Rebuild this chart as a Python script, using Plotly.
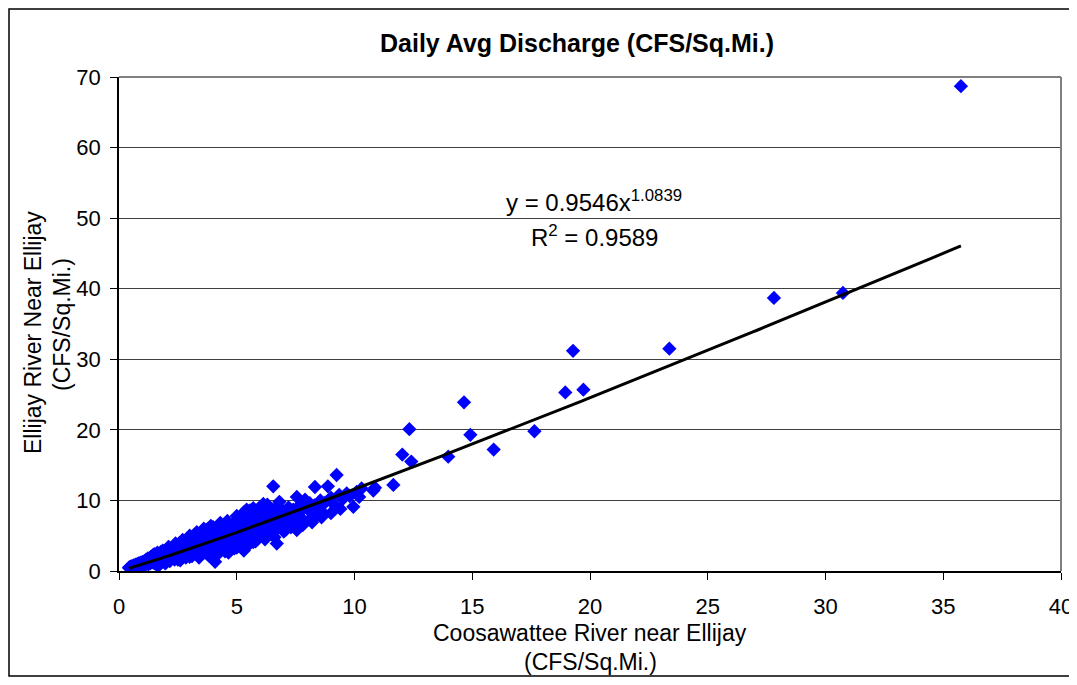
import plotly.graph_objects as go

# Coosawattee River near Ellijay (CFS/Sq.Mi.)
coosa = [
    0.42, 0.45, 0.48, 0.50, 0.52, 0.55, 0.58, 0.60, 0.62, 0.65,
    0.68, 0.70, 0.72, 0.75, 0.78, 0.80, 0.83, 0.85, 0.88, 0.90,
    0.93, 0.95, 0.98, 1.00, 1.02, 1.05, 1.08, 1.10, 1.13, 1.15,
    1.18, 1.20, 1.23, 1.25, 1.28, 1.30, 1.33, 1.35, 1.38, 1.40,
    1.43, 1.45, 1.48, 1.50, 1.53, 1.55, 1.58, 1.60, 1.63, 1.66,
    1.70, 1.72, 1.75, 1.78, 1.80, 1.83, 1.86, 1.90, 1.93, 1.96,
    2.00, 2.03, 2.06, 2.10, 2.13, 2.16, 2.20, 2.23, 2.26, 2.30,
    2.33, 2.36, 2.40, 2.44, 2.48, 2.52, 2.56, 2.60, 2.64, 2.68,
    2.72, 2.76, 2.80, 2.84, 2.88, 2.92, 2.96, 3.00, 3.05, 3.10,
    3.15, 3.20, 3.25, 3.30, 3.35, 3.40, 3.45, 3.50, 3.55, 3.60,
    3.65, 3.70, 3.75, 3.80, 3.85, 3.90, 3.95, 4.00, 4.05, 4.10,
    4.15, 4.20, 4.25, 4.08, 4.00, 4.35, 4.40, 4.45, 4.50, 4.55,
    4.60, 4.65, 4.70, 4.75, 4.80, 4.85, 4.90, 4.95, 5.00, 5.05,
    5.10, 5.15, 5.20, 5.25, 5.30, 5.35, 5.42, 5.42, 5.45, 5.50,
    5.56, 5.60, 5.65, 5.70, 5.75, 5.80, 5.85, 5.90, 5.95, 6.00,
    6.05, 6.13, 6.10, 6.20, 6.25, 6.30, 6.35, 6.40, 6.45, 6.55,
    6.50, 6.60, 6.70, 6.65, 6.75, 6.81, 6.85, 6.90, 7.00, 7.05,
    7.10, 7.20, 7.30, 7.40, 7.55, 7.55, 7.50, 7.60, 7.70, 7.80,
    7.90, 8.00, 8.10, 8.20, 8.32, 8.39, 8.45, 8.55, 8.68, 8.87,
    8.75, 9.00, 9.24, 9.10, 9.35, 9.50, 9.67, 9.80, 9.95, 10.09,
    10.20, 10.30, 10.80, 10.87, 11.65, 12.03, 12.33, 12.41, 13.98, 14.65,
    14.92, 15.91, 17.64, 18.95, 19.72, 19.28, 23.37, 27.81, 30.74, 35.75,
    1.10, 1.40, 1.70, 2.00, 2.30, 2.60, 2.90, 3.20, 3.50, 3.80,
    4.10, 4.40, 4.70, 5.00, 5.30, 5.60, 5.90, 6.20, 6.50, 6.80,
    7.10, 7.40, 7.70, 8.00, 8.30, 8.60, 3.00, 3.40, 3.60, 4.20,
    4.60, 5.20, 2.50, 2.20, 1.90,
    2.10, 2.40, 2.70, 3.00, 3.30, 3.60, 3.90, 4.30, 4.60, 5.00,
    5.30, 5.70, 6.00, 6.30,
    2.00, 2.50, 3.00, 3.30, 3.70, 4.20, 4.50, 4.90, 5.30, 5.80,
    6.20, 6.60, 7.00, 7.30, 7.80, 8.20, 8.60, 9.00, 9.40,
    1.50, 1.80, 2.10, 2.40, 2.80, 3.10, 3.40, 3.70, 4.00, 4.30,
    4.60, 4.90, 5.20, 5.50, 5.80, 6.10, 6.40, 6.70, 7.00, 7.30,
]

# Ellijay River near Ellijay (CFS/Sq.Mi.)
ellijay = [
    0.45, 0.55, 0.40, 0.60, 0.50, 0.70, 0.45, 0.65, 0.80, 0.55,
    0.75, 0.90, 0.60, 0.80, 1.00, 0.70, 0.90, 1.10, 0.75, 1.00,
    1.20, 0.80, 1.05, 1.30, 0.85, 1.15, 1.40, 0.90, 1.25, 1.60,
    1.00, 1.35, 1.80, 0.95, 1.45, 1.70, 1.10, 2.00, 1.30, 1.55,
    2.20, 1.20, 1.70, 2.40, 1.05, 1.85, 2.10, 1.40, 2.60, 0.70,
    1.90, 2.30, 1.50, 2.70, 1.20, 2.00, 2.90, 1.60, 2.40, 1.10,
    2.20, 3.00, 1.70, 2.60, 3.30, 1.40, 2.40, 3.10, 1.90, 2.80,
    3.50, 1.60, 2.50, 3.70, 2.00, 2.90, 3.90, 1.50, 2.70, 3.40,
    2.20, 4.20, 3.00, 1.90, 3.60, 4.50, 2.50, 3.30, 4.80, 2.10,
    3.80, 5.10, 2.80, 3.50, 4.40, 1.90, 3.10, 5.40, 4.00, 2.60,
    4.70, 3.60, 5.90, 2.20, 4.20, 5.20, 3.30, 6.20, 4.50, 2.90,
    5.00, 3.80, 6.00, 1.30, 1.90, 4.70, 5.60, 3.20, 6.60, 4.30,
    5.30, 2.60, 4.90, 6.40, 3.70, 5.80, 4.50, 7.00, 3.30, 5.40,
    6.20, 4.10, 7.40, 5.00, 2.90, 6.00, 8.70, 3.45, 4.60, 6.80,
    8.60, 5.30, 7.60, 4.10, 6.50, 7.90, 5.70, 4.60, 7.00, 8.30,
    5.90, 9.50, 4.90, 7.30, 6.30, 8.00, 5.20, 7.60, 6.70, 12.00,
    8.70, 5.60, 3.90, 7.20, 9.20, 9.80, 6.40, 7.90, 8.40, 6.90,
    5.90, 9.00, 7.40, 8.70, 10.50, 5.80, 6.60, 8.00, 9.40, 7.30,
    10.10, 8.80, 9.60, 7.60, 11.90, 7.90, 9.20, 10.00, 8.20, 12.00,
    9.70, 10.40, 13.60, 9.50, 10.80, 10.20, 11.00, 10.60, 9.10, 11.20,
    10.50, 11.70, 11.40, 11.80, 12.20, 16.50, 20.10, 15.50, 16.20, 23.90,
    19.30, 17.20, 19.80, 25.30, 25.70, 31.20, 31.50, 38.70, 39.40, 68.70,
    1.10, 1.30, 1.70, 1.90, 2.30, 2.60, 3.00, 3.40, 3.70, 4.00,
    4.40, 4.70, 5.10, 5.50, 5.80, 6.10, 6.40, 6.80, 7.10, 7.50,
    7.80, 8.10, 8.50, 9.00, 9.30, 9.70, 4.00, 4.60, 3.00, 5.30,
    3.90, 4.50, 3.30, 1.80, 2.50,
    3.40, 3.90, 4.40, 5.00, 5.50, 6.00, 6.40, 6.80, 7.10, 7.80,
    8.30, 8.90, 9.10, 9.40,
    1.20, 1.60, 2.00, 2.30, 2.60, 2.40, 2.80, 3.20, 3.90, 4.20,
    4.50, 4.80, 5.60, 6.20, 6.50, 6.90, 7.60, 8.20, 8.80,
    1.50, 2.20, 2.00, 3.00, 2.50, 3.80, 3.20, 4.50, 3.60, 5.60,
    4.40, 5.90, 5.10, 6.30, 5.40, 7.00, 6.00, 7.80, 7.00, 8.60,
]

# Power trendline coefficients (from the chart label)
trend_a = 0.9546
trend_b = 1.0839
trend_r2 = 0.9589

x_ticks = [0, 5, 10, 15, 20, 25, 30, 35, 40]
y_ticks = [0, 10, 20, 30, 40, 50, 60, 70]

FONT = "Arial, Liberation Sans, sans-serif"

x_lo, x_hi = min(coosa), max(coosa)
trend_x = [x_lo + i * (x_hi - x_lo) / 200 for i in range(201)]
trend_y = [trend_a * v ** trend_b for v in trend_x]

fig = go.Figure()
fig.add_trace(go.Scatter(
    x=coosa, y=ellijay, mode="markers",
    marker=dict(symbol="diamond", size=11, color="#0000FF", line=dict(width=0)),
    showlegend=False, hoverinfo="x+y",
))
fig.add_trace(go.Scatter(
    x=trend_x, y=trend_y, mode="lines",
    line=dict(color="#000000", width=3),
    showlegend=False, hoverinfo="skip",
))

# page offset (body margin) compensation: reference pixel -> figure pixel
OFF = 8
W, H = 1077 - OFF, 685 - 2 * OFF
L, R, T, B = 119 - OFF, 1061 - OFF, 77 - OFF, 571 - OFF
PW, PH = R - L, B - T


def px(xp):
    return (xp - OFF - L) / PW


def py(yp):
    return (B - (yp - OFF)) / PH


fig.update_layout(
    width=W, height=H,
    margin=dict(l=L, r=W - R, t=T, b=H - B, autoexpand=False),
    paper_bgcolor="white", plot_bgcolor="white",
    font=dict(family=FONT, color="#000000", size=22),
    xaxis=dict(
        range=[0, 40], tickvals=x_ticks, ticktext=[str(v) for v in x_ticks],
        showgrid=False, zeroline=False, showline=True, linecolor="#000000", linewidth=1.5,
        ticks="outside", ticklen=7, tickcolor="#000000", tickwidth=1,
        ticklabelstandoff=8, tickfont=dict(size=22, family=FONT),
    ),
    yaxis=dict(
        range=[0, 70], tickvals=y_ticks, ticktext=[str(v) for v in y_ticks],
        showgrid=True, gridcolor="#404040", gridwidth=1, zeroline=False,
        showline=True, linecolor="#000000", linewidth=1.5,
        ticks="outside", ticklen=7, tickcolor="#000000", tickwidth=1,
        ticklabelstandoff=5, tickfont=dict(size=22, family=FONT),
    ),
    shapes=[
        dict(type="line", xref="paper", yref="paper", x0=0, x1=1, y0=1, y1=1,
             line=dict(color="#808080", width=2)),
        dict(type="line", xref="paper", yref="paper", x0=1, x1=1, y0=0, y1=1,
             line=dict(color="#808080", width=2)),
        dict(type="rect", xref="paper", yref="paper",
             x0=(1 - L) / PW, x1=(1067 - L) / PW,
             y0=(B - (H - 1)) / PH, y1=(B - 1) / PH,
             line=dict(color="#000000", width=1.5), fillcolor="rgba(0,0,0,0)", layer="below"),
    ],
    annotations=[
        dict(text="<b>Daily Avg Discharge (CFS/Sq.Mi.)</b>", xref="paper", yref="paper",
             x=px(577), y=py(43), showarrow=False, xanchor="center", yanchor="middle",
             font=dict(size=25, family=FONT)),
        dict(text="Coosawattee River near Ellijay", xref="paper", yref="paper",
             x=px(590), y=py(633), showarrow=False, xanchor="center", yanchor="middle",
             font=dict(size=23, family=FONT)),
        dict(text="(CFS/Sq.Mi.)", xref="paper", yref="paper",
             x=px(590), y=py(662), showarrow=False, xanchor="center", yanchor="middle",
             font=dict(size=23, family=FONT)),
        dict(text="Ellijay River Near Ellijay", xref="paper", yref="paper",
             x=px(33), y=py(333), showarrow=False, xanchor="center", yanchor="middle",
             textangle=-90, font=dict(size=23, family=FONT)),
        dict(text="(CFS/Sq.Mi.)", xref="paper", yref="paper",
             x=px(62), y=py(325), showarrow=False, xanchor="center", yanchor="middle",
             textangle=-90, font=dict(size=23, family=FONT)),
        dict(text=f"y = {trend_a}x<sup>{trend_b}</sup>", xref="paper", yref="paper",
             x=px(594), y=py(201), showarrow=False, xanchor="center", yanchor="middle",
             font=dict(size=24, family=FONT)),
        dict(text=f"R<sup>2</sup> = {trend_r2}", xref="paper", yref="paper",
             x=px(594), y=py(236), showarrow=False, xanchor="center", yanchor="middle",
             font=dict(size=24, family=FONT)),
    ],
)

fig.write_html("out.html")
